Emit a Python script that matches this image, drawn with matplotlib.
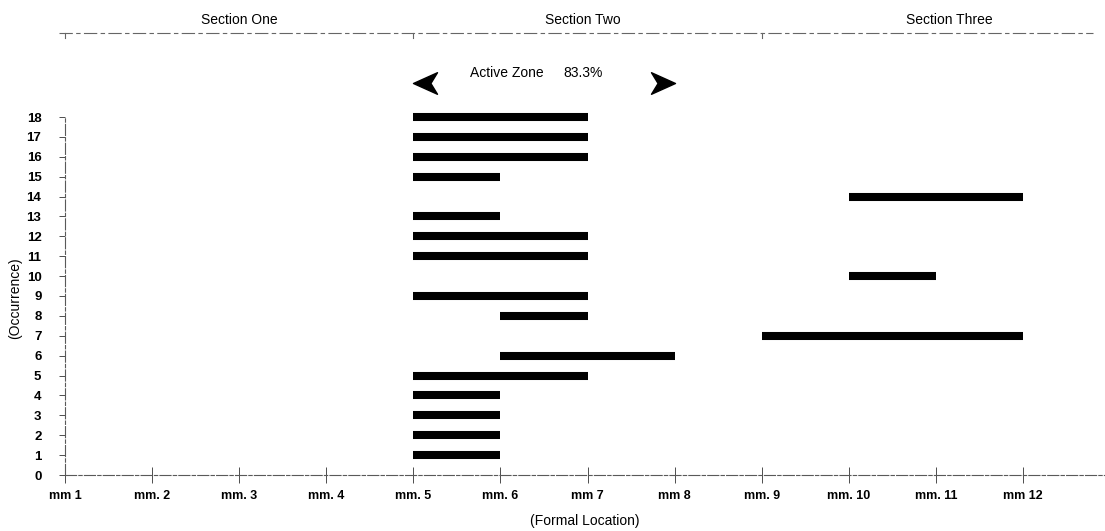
import matplotlib
matplotlib.use("Agg")
import matplotlib.pyplot as plt
import matplotlib.transforms as mtransforms
from matplotlib.path import Path
import numpy as np

plt.rcParams['font.family'] = ['Liberation Sans', 'DejaVu Sans']

# ---- data ----
occurrence = [18, 17, 16, 15, 14, 13, 12, 11, 10, 9, 8, 7, 6, 5, 4, 3, 2, 1]
start_mm   = [5, 5, 5, 5, 10, 5, 5, 5, 10, 5, 6, 9, 6, 5, 5, 5, 5, 5]
end_mm     = [7, 7, 7, 6, 12, 6, 7, 7, 11, 7, 7, 12, 8, 7, 6, 6, 6, 6]

x_positions = list(range(1, 13))
x_labels = ["mm 1", "mm. 2", "mm. 3", "mm. 4", "mm. 5", "mm. 6",
            "mm 7", "mm 8", "mm. 9", "mm. 10", "mm. 11", "mm 12"]
y_ticks = list(range(0, 19))

sections = ["Section One", "Section Two", "Section Three"]
section_bounds = [1, 5, 9]
section_label_x = [3.0, 6.95, 11.15]

active_zone = (5, 8)
active_label = "Active Zone"
active_pct = "83.3%"

# ---- figure ----
W, H = 1105, 531
fig = plt.figure(figsize=(W / 100, H / 100), dpi=100)
ax = fig.add_axes([65 / W, 56 / H, 1040 / W, 358 / H])

ax.hlines(occurrence, start_mm, end_mm, colors='black', linewidth=5.8,
          capstyle='butt', clip_on=False)

ax.set_xlim(1, 1 + 1040 / 87.1)
ax.set_ylim(0, 18)

ax.set_xticks(x_positions)
ax.set_xticklabels(x_labels, fontsize=9, fontweight='bold')
ax.set_yticks(y_ticks)
ax.set_yticklabels([str(v) for v in y_ticks], fontsize=9.5, fontweight='bold')

ax.tick_params(axis='x', direction='inout', length=12, width=0.7,
               color='0.3', pad=5)
ax.tick_params(axis='y', direction='out', length=4, width=0.7,
               color='0.3', pad=13)

for s in ['top', 'right']:
    ax.spines[s].set_visible(False)
for s in ['left', 'bottom']:
    ax.spines[s].set_linewidth(0.8)
    ax.spines[s].set_color('0.35')
    ax.spines[s].set_linestyle((0, (10, 2, 3, 2)))

# axis titles
fig.text(585 / W, 1 - 521 / H, "(Formal Location)", ha='center', va='center',
         fontsize=10)
fig.text(15 / W, 1 - 298 / H, "(Occurrence)", ha='center', va='center',
         rotation=90, fontsize=10)

# section header line and labels
trans = mtransforms.blended_transform_factory(ax.transData, fig.transFigure)
y_line = 1 - 33 / H
ax.plot([0.93, 12.8], [y_line, y_line], transform=trans, clip_on=False,
        color='0.4', linewidth=0.8, linestyle=(0, (12, 3, 4, 3)))
for b in section_bounds:
    ax.plot([b, b], [y_line, y_line - 5 / H], transform=trans, clip_on=False,
            color='0.4', linewidth=0.8)
for name, xs in zip(sections, section_label_x):
    ax.text(xs, 1 - 20 / H, name, transform=trans, ha='center', va='center',
            fontsize=10)

# active zone annotation
ax.text(470 / 87.1 + 1 - 65 / 87.1, 1 - 73 / H, active_label, transform=trans,
        ha='left', va='center', fontsize=10)
ax.text(563 / 87.1 + 1 - 65 / 87.1, 1 - 73 / H, active_pct, transform=trans,
        ha='left', va='center', fontsize=10)

head = Path([(-1, 0), (1, 0.9), (0.45, 0), (1, -0.9), (-1, 0)],
            [Path.MOVETO, Path.LINETO, Path.LINETO, Path.LINETO, Path.CLOSEPOLY])
head_r = Path([(1, 0), (-1, 0.9), (-0.45, 0), (-1, -0.9), (1, 0)],
              [Path.MOVETO, Path.LINETO, Path.LINETO, Path.LINETO, Path.CLOSEPOLY])
ms_px = 24
half = ms_px / 2 / 87.1
ax.plot([active_zone[0] + half], [1 - 83 / H], marker=head, markersize=ms_px * 0.72,
        color='black', transform=trans, clip_on=False, linestyle='none')
ax.plot([active_zone[1] - half], [1 - 83 / H], marker=head_r, markersize=ms_px * 0.72,
        color='black', transform=trans, clip_on=False, linestyle='none')

fig.savefig("out.png", dpi=100, facecolor='white')
